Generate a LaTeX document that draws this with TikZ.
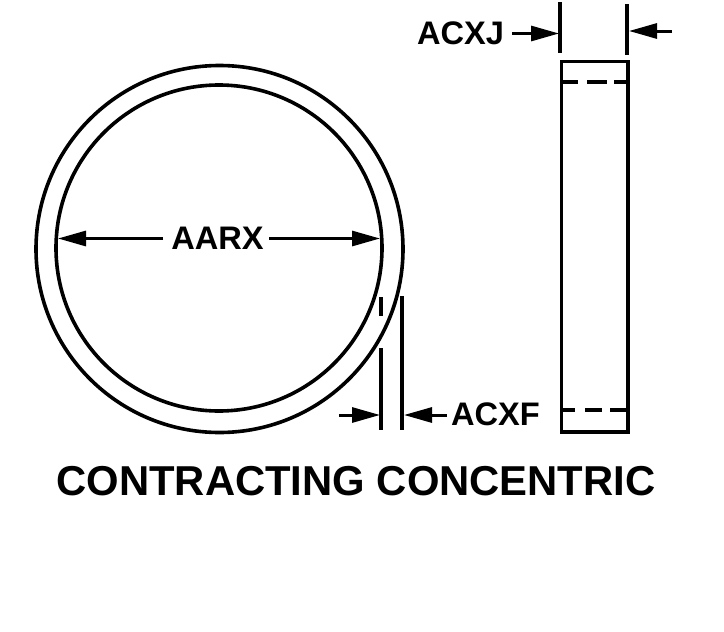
\documentclass[tikz,border=0pt]{standalone}
\usepackage{fontspec}
\setmainfont{Liberation Sans}
\usetikzlibrary{arrows.meta}
\tikzset{
  part/.style={line width=3.6pt,black},
  extline/.style={line width=3.2pt,black},
  dimline/.style={line width=3pt,black,-{Triangle[length=28pt,width=15pt,fill=black]}},
  hiddenline/.style={line width=3.2pt,black},
  lab/.style={font=\bfseries\fontsize{32.6}{33}\selectfont,inner sep=0pt,anchor=center,text=black},
  title/.style={font=\bfseries\fontsize{41.8}{42}\selectfont,inner sep=0pt,anchor=center,text=black}
}
\begin{document}
\begin{tikzpicture}[x=1pt,y=-1pt]
\useasboundingbox[fill=white] (0,0) rectangle (724,632);
% ring
\draw[part] (219.5,249) circle[radius=183.5];
\draw[part] (219,248) circle[radius=163];
% side view
\draw[part] (561.5,61.5) rectangle (628,432);
\draw[hiddenline] (562,82) -- (578,82) (587,82) -- (607,82) (614,82) -- (627,82);
\draw[hiddenline] (562,410) -- (575,410) (585,410) -- (602,410) (610,410) -- (627,410);
% extension lines
\draw[extline] (381,297) -- (381,316) (381,348) -- (381,430);
\draw[extline] (402,296) -- (402,430);
\draw[extline] (560,2) -- (560,53);
\draw[extline] (627,4) -- (627,55);
% labels
\node[lab] (aarx) at (217.5,238.5) {AARX};
\node[lab] (acxf) at (495.5,414.5) {ACXF};
\node[lab] (acxj) at (460.5,33.5) {ACXJ};
\node[title] (ttl) at (356,481.5) {CONTRACTING CONCENTRIC};
% dimension ends
\coordinate (aL) at (58,238.5);
\coordinate (aR) at (380,238.5);
\coordinate (fL0) at (339,415);
\coordinate (fL) at (380,415);
\coordinate (fR) at (404,415);
\coordinate (jL) at (559,33.5);
\coordinate (jR0) at (672,31);
\coordinate (jR) at (629,31);
\coordinate (aLs) at (163,238.5);
\coordinate (aRs) at (269,238.5);
\coordinate (fRs) at (447,415);
\coordinate (jLs) at (512,33.5);
% arrows
\draw[dimline] (aLs) -- (aL);
\draw[dimline] (aRs) -- (aR);
\draw[dimline] (fL0) -- (fL);
\draw[dimline] (fRs) -- (fR);
\draw[dimline] (jLs) -- (jL);
\draw[dimline] (jR0) -- (jR);
\end{tikzpicture}
\end{document}
